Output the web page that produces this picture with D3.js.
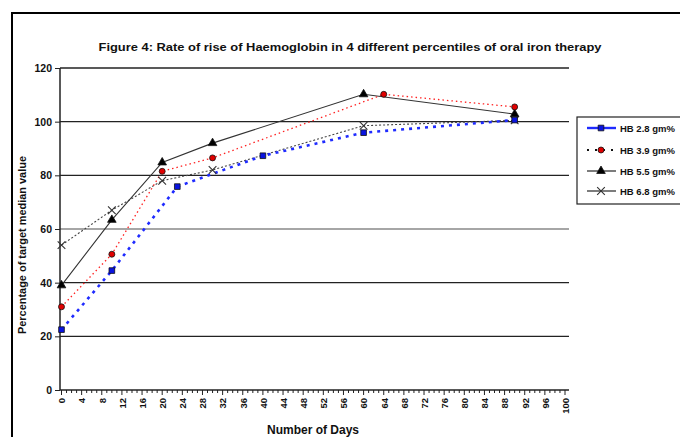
<!DOCTYPE html>
<html>
<head>
<meta charset="utf-8">
<script src="https://cdnjs.cloudflare.com/ajax/libs/d3/7.8.5/d3.min.js"></script>
<style>
  body { margin: 0; background: #fff; }
  text { font-family: "Liberation Sans", Arial, sans-serif; font-weight: bold; fill: #111; }
</style>
</head>
<body>
<script>

// values
var seriesNames = ["HB 2.8 gm%", "HB 3.9 gm%", "HB 5.5 gm%", "HB 6.8 gm%"];

var hb28Days = [0, 10, 23, 40, 60, 90];
var hb28Vals = [22.5, 44.5, 75.8, 87.3, 95.9, 100.6];

var hb39Days = [0, 10, 20, 30, 64, 90];
var hb39Vals = [31, 50.6, 81.5, 86.5, 110.2, 105.5];

var hb55Days = [0, 10, 20, 30, 60, 90];
var hb55Vals = [39, 63.4, 84.8, 92, 110.2, 102.8];

var hb68Days = [0, 10, 20, 30, 60, 90];
var hb68Vals = [54, 67, 78, 82, 98.5, 100.5];

var yTicks = [0, 20, 40, 60, 80, 100, 120];
var xTicks = [0, 4, 8, 12, 16, 20, 24, 28, 32, 36, 40, 44, 48, 52, 56, 60, 64, 68, 72, 76, 80, 84, 88, 92, 96, 100];

var W = 680, H = 437;

var svg = d3.select("body").append("svg")
    .attr("width", W)
    .attr("height", H);

// outer frame, runs off the right and bottom edge
svg.append("rect")
    .attr("x", 12).attr("y", 13)
    .attr("width", 720).attr("height", 460)
    .attr("fill", "none")
    .attr("stroke", "#000")
    .attr("stroke-width", 2);

var x = d3.scaleLinear().domain([0, 100]).range([61.5, 565]);
var y = d3.scaleLinear().domain([0, 120]).range([390, 68]);

var plotLeft = 60, plotRight = 569;

// title
svg.append("text")
    .attr("x", 350).attr("y", 51)
    .attr("text-anchor", "middle")
    .attr("font-size", 10.5)
    .attr("textLength", 503)
    .attr("lengthAdjust", "spacingAndGlyphs")
    .text("Figure 4: Rate of rise of Haemoglobin in 4 different percentiles of oral iron therapy");

// gridlines
svg.append("g").selectAll("line")
    .data(yTicks.filter(function(d) { return d > 0; }))
    .enter().append("line")
    .attr("x1", plotLeft).attr("x2", plotRight)
    .attr("y1", function(d) { return y(d); })
    .attr("y2", function(d) { return y(d); })
    .attr("stroke", function(d) { return d == 60 ? "#888" : "#222"; })
    .attr("stroke-width", 1.3);

// y axis
var yAxis = svg.append("g")
    .attr("transform", "translate(" + plotLeft + ",0)")
    .call(d3.axisLeft(y).tickValues(yTicks).tickSize(5).tickSizeOuter(0));
yAxis.select(".domain").attr("stroke", "#222").attr("stroke-width", 1.5).attr("d", "M0,68V390");
yAxis.selectAll(".tick line").attr("stroke", "#222");
yAxis.selectAll(".tick text")
    .attr("font-size", 10.5)
    .attr("x", -8)
    .style("font-family", "'Liberation Sans', Arial, sans-serif")
    .style("font-weight", "bold")
    .attr("fill", "#111");

// x axis: minor ticks every day, labels every 4
var minor = d3.range(0, 101);
svg.append("g").selectAll("line")
    .data(minor)
    .enter().append("line")
    .attr("x1", function(d) { return x(d); })
    .attr("x2", function(d) { return x(d); })
    .attr("y1", 390)
    .attr("y2", function(d) { return d % 4 == 0 ? 395 : 393; })
    .attr("stroke", "#222")
    .attr("stroke-width", 1);

var xAxis = svg.append("g")
    .attr("transform", "translate(0,390)")
    .call(d3.axisBottom(x).tickValues(xTicks).tickSize(0).tickSizeOuter(0));
xAxis.select(".domain").attr("stroke", "#222").attr("stroke-width", 1.5)
    .attr("d", "M" + plotLeft + ",0H" + plotRight);
xAxis.selectAll(".tick text")
    .attr("font-size", 9.5)
    .attr("transform", "rotate(-90)")
    .attr("text-anchor", "end")
    .attr("x", -8)
    .attr("y", 0)
    .attr("dy", "0.35em")
    .style("font-family", "'Liberation Sans', Arial, sans-serif")
    .style("font-weight", "bold")
    .attr("fill", "#111");

// axis titles
svg.append("text")
    .attr("x", 313).attr("y", 434)
    .attr("text-anchor", "middle")
    .attr("font-size", 12)
    .text("Number of Days");

svg.append("text")
    .attr("transform", "translate(26,245) rotate(-90)")
    .attr("text-anchor", "middle")
    .attr("font-size", 11)
    .attr("textLength", 178)
    .attr("lengthAdjust", "spacingAndGlyphs")
    .text("Percentage of target median value");

function toPoints(days, vals) {
  return days.map(function(d, i) { return {day: d, val: vals[i]}; });
}

var series = [
  {name: seriesNames[0], pts: toPoints(hb28Days, hb28Vals), color: "#1f2bff", width: 2.6, dash: "3,5", marker: "square", fill: "#0a14e0"},
  {name: seriesNames[1], pts: toPoints(hb39Days, hb39Vals), color: "#ff2020", width: 1.3, dash: "1.5,3", marker: "circle", fill: "#e00000"},
  {name: seriesNames[2], pts: toPoints(hb55Days, hb55Vals), color: "#333", width: 1.1, dash: null, marker: "triangle", fill: "#000"},
  {name: seriesNames[3], pts: toPoints(hb68Days, hb68Vals), color: "#444", width: 1.1, dash: "2,2", marker: "cross", fill: "#333"}
];

var line = d3.line()
    .x(function(d) { return x(d.day); })
    .y(function(d) { return y(d.val); });

var symbolTypes = {
  square: d3.symbolSquare,
  circle: d3.symbolCircle,
  triangle: d3.symbolTriangle,
  cross: d3.symbolX
};
var symbolSizes = {square: 32, circle: 28, triangle: 32, cross: 40};

function drawMarker(g, s) {
  var p = g.append("path")
      .attr("d", d3.symbol().type(symbolTypes[s.marker]).size(symbolSizes[s.marker]));
  if (s.marker == "cross") {
    p.attr("fill", "none").attr("stroke", "#333").attr("stroke-width", 1.1);
  } else {
    p.attr("fill", s.fill).attr("stroke", "#111").attr("stroke-width", 0.8);
  }
}

// draw back to front like the original
series.slice().reverse().forEach(function(s) {
  svg.append("path")
      .datum(s.pts)
      .attr("d", line)
      .attr("fill", "none")
      .attr("stroke", s.color)
      .attr("stroke-width", s.width)
      .attr("stroke-dasharray", s.dash);
});

series.slice().reverse().forEach(function(s) {
  s.pts.forEach(function(d) {
    var g = svg.append("g")
        .attr("transform", "translate(" + x(d.day) + "," + y(d.val) + ")");
    drawMarker(g, s);
  });
});

// legend
var legend = svg.append("g");
legend.append("rect")
    .attr("x", 577).attr("y", 117)
    .attr("width", 140).attr("height", 87)
    .attr("fill", "#fff")
    .attr("stroke", "#222")
    .attr("stroke-width", 1.2);

var legendY = [128, 150, 171, 191];
var legendStyle = [
  {color: "#1f2bff", width: 2.4, dash: null},
  {color: "#111", width: 2, dash: "2,6"},
  {color: "#111", width: 1.1, dash: null},
  {color: "#111", width: 1.1, dash: null}
];

series.forEach(function(s, i) {
  var item = legend.append("g")
      .attr("transform", "translate(0," + legendY[i] + ")");
  item.append("line")
      .attr("x1", 587).attr("x2", 616)
      .attr("stroke", legendStyle[i].color)
      .attr("stroke-width", legendStyle[i].width)
      .attr("stroke-dasharray", legendStyle[i].dash);
  var m = item.append("g").attr("transform", "translate(601,0)");
  drawMarker(m, s);
  item.append("text")
      .attr("x", 620).attr("y", 3.5)
      .attr("font-size", 9.5)
      .text(s.name);
});

</script>
</body>
</html>
